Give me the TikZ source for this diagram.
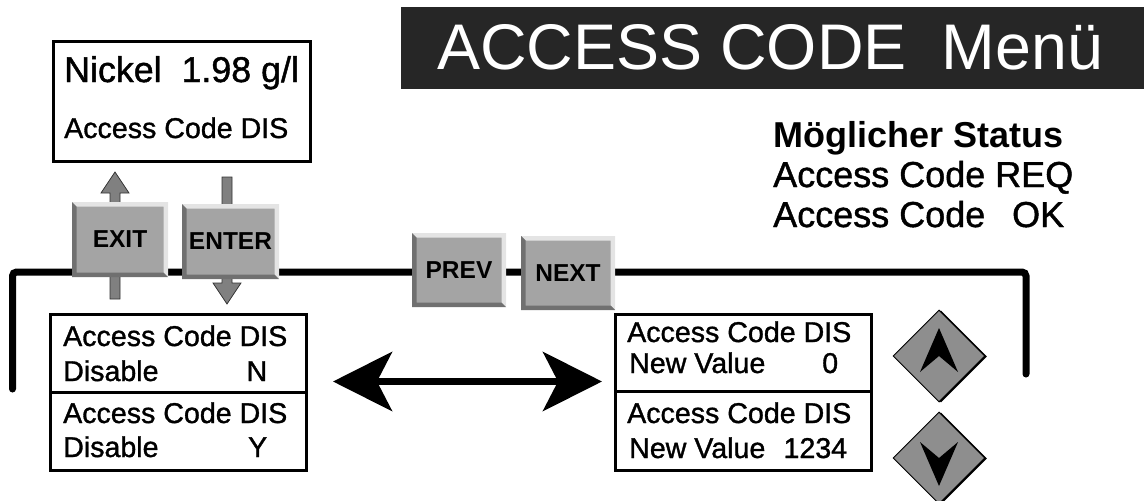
\documentclass[tikz,border=0pt]{standalone}
\usepackage{fontspec}
\setmainfont{Liberation Sans}
\newfontfamily\heavyface{Liberation Sans}[FakeBold=1.2]
\usetikzlibrary{arrows.meta,shapes.geometric,shadows,calc}

\definecolor{titlegray}{HTML}{262626}
\definecolor{btnface}{HTML}{A4A4A4}
\definecolor{btnhi}{HTML}{E4E4E4}
\definecolor{btnlo}{HTML}{707070}
\definecolor{shaftgray}{HTML}{808080}
\definecolor{keygray}{HTML}{8E8E8E}

\newcommand{\lcdfont}{\heavyface\fontsize{28.6}{30}\selectfont}
\newcommand{\bigfont}{\heavyface\fontsize{35.8}{40}\selectfont}
\newcommand{\keyfont}{\bfseries\fontsize{24.5}{26}\selectfont}
\newcommand{\statfont}{\heavyface\fontsize{36}{40}\selectfont}
\newcommand{\titlefont}{\fontsize{64.5}{70}\selectfont}

\newcommand{\keyarrow}[2]{%
  \filldraw[keyshaft] let \p1=(#1), \p2=(#2), \n1={sign(\y2-\y1)*21} in
    ({\x1-5pt},\y1) -- ({\x1-5pt},{\y2-\n1}) -- ({\x1-14pt},{\y2-\n1})
    -- (\x2,\y2) -- ({\x1+14pt},{\y2-\n1}) -- ({\x1+5pt},{\y2-\n1})
    -- ({\x1+5pt},\y1) -- cycle;}

\tikzset{
  lcd/.style={draw, line width=3pt, fill=white, inner sep=0pt},
  lcdtxt/.style={anchor=base west, inner sep=0pt, font=\lcdfont},
  stattxt/.style={anchor=base west, inner sep=0pt, font=\statfont},
  keyshaft/.style={fill=shaftgray, draw=black!80, line width=0.8pt},
  keybtn/.style={fill=btnface, minimum width=95pt, minimum height=75pt,
    inner sep=0pt, font=\keyfont,
    path picture={
      \fill[btnhi] (path picture bounding box.north west)
        -- (path picture bounding box.north east)
        -- (path picture bounding box.south east) -- ++(-4.5pt,4.5pt)
        |- ([shift={(4.5pt,-4.5pt)}]path picture bounding box.north west) -- cycle;
      \fill[btnlo] (path picture bounding box.north west)
        -- (path picture bounding box.south west)
        -- (path picture bounding box.south east) -- ++(-4.5pt,4.5pt)
        -| ([shift={(4.5pt,-4.5pt)}]path picture bounding box.north west) -- cycle;
    }},
  dirkey/.style={diamond, aspect=1, fill=keygray, draw=black, line width=1pt,
    minimum width=92pt, minimum height=92pt, inner sep=0pt,
    general shadow={fill=black, shadow xshift=2pt, shadow yshift=-0.5pt}},
  loopline/.style={line width=7pt, line cap=round, rounded corners=4pt},
  swapline/.style={line width=7pt,
    {Stealth[length=59pt,width=59pt,inset=15pt]}-{Stealth[length=59pt,width=59pt,inset=15pt]}},
}

\begin{document}
\begin{tikzpicture}[x=1pt,y=-1pt]
\useasboundingbox (0,0) rectangle (1144,501);

% title and status list
\node[fill=titlegray, minimum width=743pt, minimum height=82pt, inner sep=0pt] (title) at (772.5,48) {};
\node[anchor=base west, inner sep=0pt, text=white, font=\titlefont] (titletext) at (437,69)
  {\makebox[666pt][l]{ACCESS CODE\hfill Menü}};
\node[stattxt, font=\bfseries\fontsize{36}{40}\selectfont] (stathead) at (773,147) {Möglicher Status};
\node[stattxt] (statreq) at (773,187) {Access Code REQ};
\node[stattxt] (statok) at (773,227) {\makebox[291pt][l]{Access Code\hfill OK}};

% menu loop
\coordinate (loopL) at (12.5,389);
\coordinate (looptop) at (500,272);
\coordinate (loopR) at (1026,374);
\draw[loopline] (loopL) |- (looptop) -| (loopR);

% exit / enter
\coordinate (exitfoot) at (115,299);
\coordinate (exittip) at (115,172);
\coordinate (enterfoot) at (227,177);
\coordinate (entertip) at (227,304);
\keyarrow{exitfoot}{exittip}
\keyarrow{enterfoot}{entertip}

\node[keybtn, minimum width=96pt] (exit) at (120,239.5) {EXIT};
\node[keybtn, minimum width=97pt] (enter) at (230.5,241.5) {ENTER};
\node[keybtn, minimum width=94pt, minimum height=74pt] (prev) at (459,270) {PREV};
\node[keybtn, minimum width=94pt, minimum height=74pt] (next) at (568,273) {NEXT};

% display boxes
\node[lcd, minimum width=257pt, minimum height=120pt] (home) at (182,101.5) {};
\node[anchor=base west, inner sep=0pt, font=\bigfont] (homeval) at (64,82) {Nickel~~1.98 g/l};
\node[lcdtxt] (homestat) at (64,138) {Access Code DIS};

\node[lcd, minimum width=256pt, minimum height=77.8pt] (disN) at (178.5,353.4) {};
\node[lcd, minimum width=256pt, minimum height=78.2pt] (disY) at (178.5,431.4) {};
\node[lcdtxt] (disNa) at (63,346) {Access Code DIS};
\node[lcdtxt] (disNb) at (63,381) {\makebox[204pt][l]{Disable\hfill N}};
\node[lcdtxt] (disYa) at (63,423) {Access Code DIS};
\node[lcdtxt] (disYb) at (63,457) {\makebox[204pt][l]{Disable\hfill Y}};

\node[lcd, minimum width=256pt, minimum height=76.5pt] (valA) at (743.5,352.75) {};
\node[lcd, minimum width=256pt, minimum height=79.5pt] (valB) at (743.5,430.75) {};
\node[lcdtxt] (valAa) at (627,342) {Access Code DIS};
\node[lcdtxt] (valAb) at (629,373) {\makebox[209pt][l]{New Value\hfill 0}};
\node[lcdtxt] (valBa) at (627,423) {Access Code DIS};
\node[lcdtxt] (valBb) at (629,458) {\makebox[218pt][l]{New Value\hfill 1234}};

\coordinate (swapL) at (333,381.5);
\coordinate (swapR) at (602,381.5);
\draw[swapline] (swapL) -- (swapR);

% up / down keys
\node[dirkey] (upkey) at (939,356) {};
\node[dirkey] (downkey) at (939,458) {};
\fill ([yshift=28pt]upkey.center) -- ([shift={(19pt,-16pt)}]upkey.center)
  -- (upkey.center) -- ([shift={(-19pt,-16pt)}]upkey.center) -- cycle;
\fill ([yshift=-28pt]downkey.center) -- ([shift={(19pt,16pt)}]downkey.center)
  -- (downkey.center) -- ([shift={(-19pt,16pt)}]downkey.center) -- cycle;
\end{tikzpicture}
\end{document}
